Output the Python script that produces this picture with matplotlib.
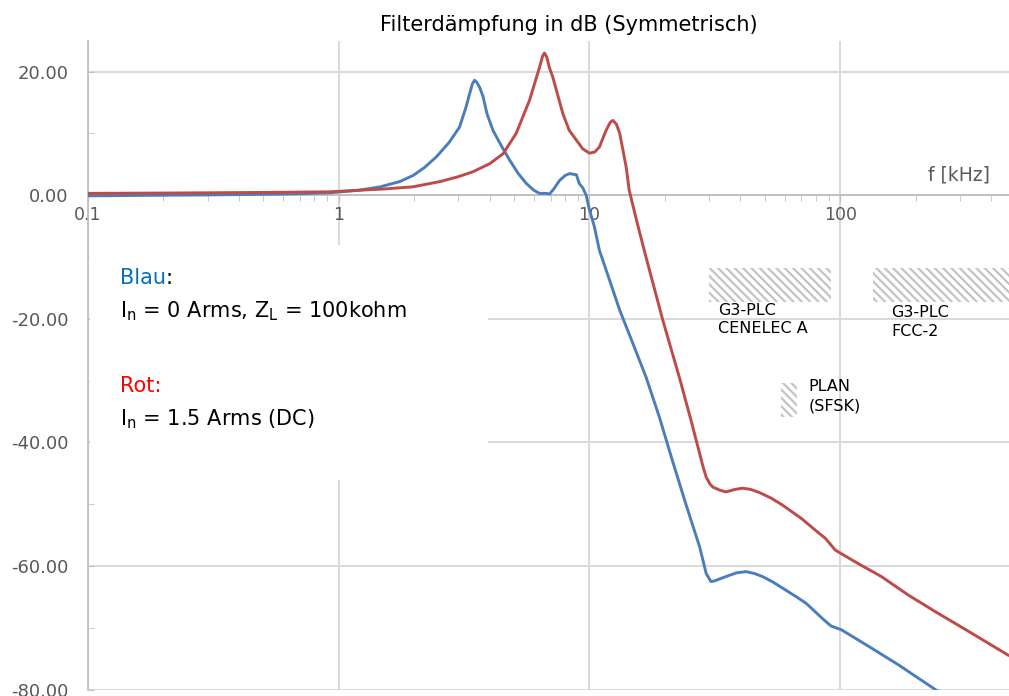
import numpy as np
import matplotlib
matplotlib.use('Agg')
import matplotlib.pyplot as plt
from matplotlib.patches import Rectangle
from matplotlib.ticker import FixedLocator, FixedFormatter, MultipleLocator, FuncFormatter

# frequency in kHz, attenuation in dB
blau_f = [0.1, 0.2, 0.3, 0.5, 0.7, 0.92, 1.2, 1.46, 1.75, 1.98, 2.2, 2.45, 2.75,
          3.03, 3.22, 3.32, 3.41, 3.48, 3.55, 3.65, 3.76, 3.9, 4.12, 4.45, 4.8, 5.2,
          5.6, 6.0, 6.32, 6.7, 6.93, 7.2, 7.6, 8.0, 8.34, 8.87, 9.1, 9.4, 9.7, 10.0,
          10.46, 10.95, 11.65, 13.2, 14.9, 16.8, 19.0, 21.4, 24.2, 27.5, 29.2, 30.5,
          31.5, 35.0, 38.5, 42.1, 45.5, 49.0, 54.0, 60.7, 67.0, 73.0, 80.0, 86.6,
          92.0, 101, 130, 171, 240, 300]
blau_db = [-0.1, 0.0, 0.05, 0.15, 0.25, 0.4, 0.8, 1.35, 2.2, 3.2, 4.5, 6.2, 8.5,
           11.0, 14.3, 16.3, 18.0, 18.6, 18.3, 17.4, 16.0, 13.2, 10.5, 8.0, 5.7, 3.5,
           1.9, 0.8, 0.3, 0.3, 0.2, 1.0, 2.4, 3.2, 3.5, 3.3, 1.9, 1.2, 0.0, -2.4,
           -5.1, -8.9, -12.1, -18.6, -24.0, -29.4, -35.9, -42.9, -49.9, -56.9, -61.2, -62.5,
           -62.4, -61.7, -61.1, -60.9, -61.2, -61.7, -62.6, -63.9, -65.0, -66.0, -67.5, -68.8,
           -69.7, -70.3, -73.0, -76.0, -80.0, -82.5]

rot_f = [0.1, 0.2, 0.5, 0.92, 1.2, 1.5, 1.97, 2.53, 3.0, 3.43, 4.0, 4.52, 5.1,
         5.77, 6.32, 6.5, 6.61, 6.75, 6.9, 7.14, 7.83, 8.3, 8.87, 9.4, 10.0, 10.5,
         10.95, 11.65, 12.1, 12.4, 12.8, 13.2, 14.0, 14.4, 15.5, 16.8, 19.6, 22.8,
         25.4, 27.5, 28.4, 29.2, 30.2, 31.0, 33.0, 35.0, 38.0, 40.8, 44.0, 47.6,
         53.0, 58.7, 70.0, 79.6, 87.2, 95.5, 101, 118, 146, 187, 240, 317, 467]
rot_db = [0.3, 0.35, 0.45, 0.55, 0.8, 1.0, 1.35, 2.2, 3.0, 3.8, 5.1, 6.7, 10.0,
          15.4, 20.7, 22.5, 23.0, 22.4, 20.8, 19.1, 13.2, 10.5, 8.9, 7.5, 6.8, 7.0,
          7.8, 10.5, 11.8, 12.1, 11.5, 10.0, 4.6, 0.8, -4.5, -10.0, -20.2, -29.4,
          -36.4, -41.8, -44.0, -45.6, -46.7, -47.2, -47.7, -48.0, -47.6, -47.4, -47.6, -48.1,
          -49.0, -50.1, -52.3, -54.2, -55.5, -57.4, -58.0, -59.6, -61.7, -64.7, -67.4, -70.3, -74.4]

# frequency bands (kHz, dB) and their labels
baender = [('G3-PLC\nCENELEC A', 30, 92, -17.3, -11.8, 32.6, -17.4),
           ('G3-PLC\nFCC-2', 135, 600, -17.3, -11.8, 160, -17.8),
           ('PLAN\n(SFSK)', 58, 67, -35.8, -30.3, 74.8, -29.8)]

x_ticks = [0.1, 1, 10, 100]
x_labels = ['0.1', '1', '10', '100']

GRAU = '#595959'
GRID = '#d9d9d9'

plt.rcParams['font.family'] = ['DejaVu Sans']
plt.rcParams['hatch.linewidth'] = 1.6
plt.rcParams['hatch.color'] = '#c4c4c4'

fig = plt.figure(figsize=(10.09, 6.96), dpi=100)
ax = fig.add_axes([88 / 1009, 1 - 689.7 / 696, 921 / 1009, 649 / 696])
ax.set_axisbelow(True)

ax.set_xscale('log')
ax.set_xlim(0.1, 471)
ax.set_ylim(-80, 25)

ax.plot(blau_f, blau_db, color='#4a7ebb', lw=2.1, zorder=3)
ax.plot(rot_f, rot_db, color='#be4b48', lw=2.1, zorder=3)

# spines / axes
for s in ['top', 'right']:
    ax.spines[s].set_visible(False)
ax.spines['bottom'].set_position(('data', 0))
ax.spines['bottom'].set_color('#bfbfbf')
ax.spines['bottom'].set_linewidth(1.3)
ax.spines['left'].set_color('#bfbfbf')
ax.spines['left'].set_linewidth(1.3)

ax.xaxis.set_major_locator(FixedLocator(x_ticks))
ax.xaxis.set_major_formatter(FixedFormatter(x_labels))
ax.xaxis.set_minor_locator(FixedLocator([m * 10.0 ** e for e in range(-1, 3) for m in range(2, 10)]))
ax.xaxis.set_minor_formatter(FixedFormatter([]))
ax.tick_params(axis='x', which='major', direction='out', length=5, color='#bfbfbf',
               labelsize=12.5, labelcolor=GRAU, pad=3)
ax.tick_params(axis='x', which='minor', direction='out', length=4, color='#bfbfbf')

ax.yaxis.set_major_locator(MultipleLocator(20))
ax.yaxis.set_minor_locator(MultipleLocator(10))
ax.yaxis.set_major_formatter(FuncFormatter(lambda v, p: '%.2f' % v))
ax.tick_params(axis='y', which='both', direction='in', length=4, color='#bfbfbf',
               labelsize=13, labelcolor=GRAU, pad=14)

ax.grid(True, which='major', color=GRID, lw=1.4)

# white box behind the description text
ax.add_patch(Rectangle((0.002, 0.323), 0.432, 0.362, transform=ax.transAxes,
                       facecolor='white', edgecolor='none', zorder=1))

t = ax.text(0.0347, 0.625, 'Blau', color='#0070c0', fontsize=15,
            transform=ax.transAxes, va='baseline', zorder=4)
ax.annotate(':', xy=(1, 0), xycoords=t, va='bottom', fontsize=15, color='black', zorder=4)
ax.text(0.0347, 0.573, r'I$_\mathregular{n}$ = 0 Arms, Z$_\mathregular{L}$ = 100kohm',
        fontsize=15, transform=ax.transAxes, va='baseline', zorder=4)
ax.text(0.0347, 0.459, 'Rot:', color='#ff0000', fontsize=15,
        transform=ax.transAxes, va='baseline', zorder=4)
ax.text(0.0347, 0.408, r'I$_\mathregular{n}$ = 1.5 Arms (DC)',
        fontsize=15, transform=ax.transAxes, va='baseline', zorder=4)

# hatched frequency bands
for name, f0, f1, y0, y1, tx, ty in baender:
    ax.add_patch(Rectangle((f0, y0), f1 - f0, y1 - y0, facecolor='white',
                           edgecolor='#c4c4c4', lw=0, hatch='\\\\\\\\', zorder=2))
    ax.text(tx, ty, name, fontsize=11.5, va='top', ha='left', linespacing=1.3, zorder=4)

ax.annotate('f [kHz]', xy=(0.9995 - (1009 - 990) / 921, 3.2),
            xycoords=('axes fraction', 'data'), ha='right', va='center',
            fontsize=13.5, color=GRAU)

fig.text(569 / 1009, 1 - 25 / 696, 'Filterdämpfung in dB (Symmetrisch)',
         ha='center', va='center', fontsize=15, color='black')

fig.savefig('out.png', dpi=100)
